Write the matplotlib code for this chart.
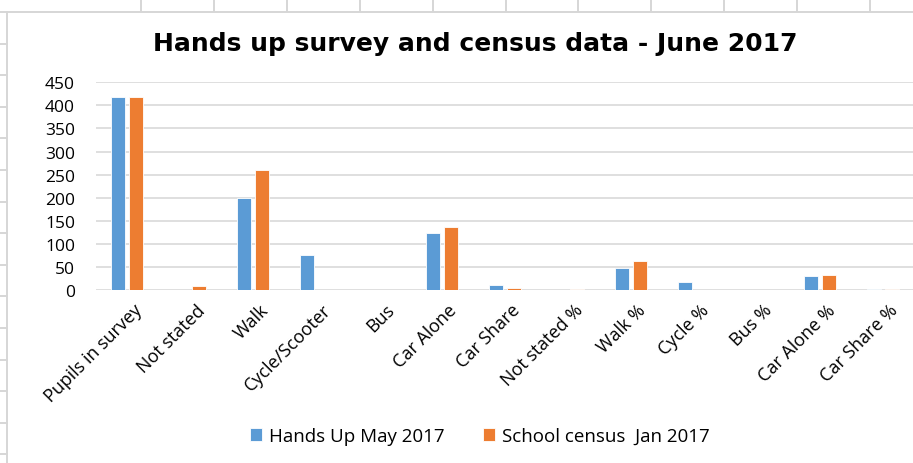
import numpy as np
import matplotlib
matplotlib.use('Agg')
from matplotlib import pyplot as plt
from matplotlib.lines import Line2D
from matplotlib.transforms import ScaledTranslation

categories = ['Pupils in survey', 'Not stated', 'Walk', 'Cycle/Scooter', 'Bus',
              'Car Alone', 'Car Share', 'Not stated %', 'Walk %', 'Cycle %',
              'Bus %', 'Car Alone %', 'Car Share %']
hands_up = [418, 0, 200, 76, 1, 124, 11, 0, 47.8, 18.2, 0.3, 29.7, 2.6]
census = [418, 8, 260, 1, 0, 137, 5, 1.9, 62.2, 0.3, 0, 32.8, 1.2]
series_names = ['Hands Up May 2017', 'School census  Jan 2017']
yticks = [0, 50, 100, 150, 200, 250, 300, 350, 400, 450]

W, H = 913, 464
fig = plt.figure(figsize=(W / 100, H / 100), dpi=100)

# spreadsheet cells behind the chart
sheet = '#d6d6d6'
for x in np.arange(141, W, 72.9):
    fig.add_artist(Line2D([x / W, x / W], [1, 1 - 12 / H], color=sheet, lw=1.4))
for y in np.arange(13, H, 31.6):
    fig.add_artist(Line2D([0, 7 / W], [1 - y / H, 1 - y / H], color=sheet, lw=1.4))
# chart border
fig.add_artist(Line2D([7 / W, 1], [1 - 12.5 / H, 1 - 12.5 / H], color=sheet, lw=1.4))
fig.add_artist(Line2D([7 / W, 7 / W], [0, 1 - 12.5 / H], color=sheet, lw=1.4))

ax = fig.add_axes([95.5 / W, 1 - 291 / H, 819 / W, 207.7 / H])
x = np.arange(len(categories))
bw = 0.235
ax.bar(x - 0.143, hands_up, bw, color='#5b9bd5', edgecolor='white', linewidth=0.6,
       label=series_names[0], zorder=3)
ax.bar(x + 0.143, census, bw, color='#ed7d31', edgecolor='white', linewidth=0.6,
       label=series_names[1], zorder=3)

ax.set_xlim(-0.5, len(categories) - 0.5)
ax.set_ylim(0, 450)
ax.set_yticks(yticks)
ax.grid(axis='y', color='#d9d9d9', lw=1.2, zorder=0)
for s in ax.spines.values():
    s.set_visible(False)
ax.tick_params(length=0)
ax.tick_params(axis='y', pad=14.8)
for lab in ax.get_yticklabels():
    lab.set_fontfamily('Open Sans')
    lab.set_fontsize(12.5)
ax.set_xticks(x)
ax.set_xticklabels(categories, rotation=45, ha='right', rotation_mode='anchor',
                   fontfamily='Open Sans', fontsize=13)
ax.tick_params(axis='x', pad=4)
shift = ScaledTranslation(6 / 100, -5 / 100, fig.dpi_scale_trans)
for lab in ax.get_xticklabels():
    lab.set_transform(lab.get_transform() + shift)

fig.text(475 / W, 1 - 44 / H, 'Hands up survey and census data - June 2017',
         ha='center', va='center', fontsize=18, fontweight='bold',
         fontfamily='DejaVu Sans')

leg = fig.legend(loc='center', bbox_to_anchor=(480 / W, 1 - 437 / H), ncol=2,
                 frameon=False, prop={'family': 'Open Sans', 'size': 13.5},
                 handlelength=0.65, handleheight=0.65, handletextpad=0.37,
                 columnspacing=2.05)

fig.savefig('out.png', dpi=100)
